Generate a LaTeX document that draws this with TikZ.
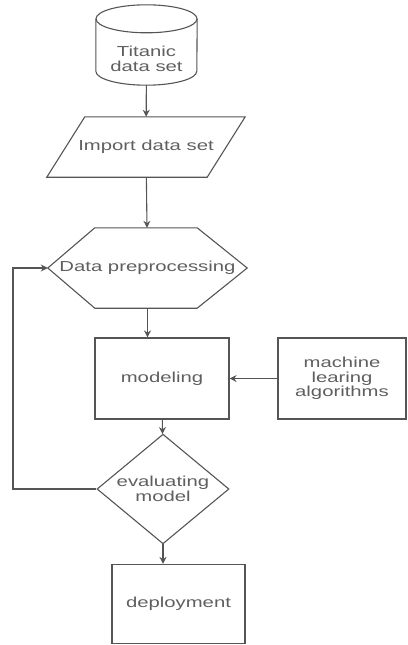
\documentclass[tikz,border=0pt]{standalone}
\usepackage{fontspec}
\newfontfamily\chartfont[FakeStretch=1.4]{Liberation Sans}
\usetikzlibrary{arrows.meta, shapes.geometric}
\definecolor{edgegray}{RGB}{85,85,85}
\definecolor{textgray}{RGB}{95,95,95}
\tikzset{
        x=1pt, y=1pt, % one unit is one pixel of the sheet
        every node/.style={font=\chartfont\fontsize{14.5}{14.5}\selectfont, text=textgray, align=center},
        flow/.style={draw=edgegray, line width=1.1pt, -{Stealth[length=7pt,width=7pt]}}, % the arrows
    }
\tikzset{
      frame/.style={draw=edgegray, line width=1.1pt},
      hold/.style 2 args={
		rectangle, inner sep=0pt,
		minimum width={#1}, minimum height={#2},
	  }, % outline is drawn by hand round it
      process/.style 2 args={
		hold={#1}{#2}, frame,
	  },
      decision/.style={
		diamond, frame, inner sep=-2pt,
		minimum width=132, minimum height=78,
	  }
  	}
\begin{document}
\begin{tikzpicture}
    \useasboundingbox (0,0) rectangle (407,-645);
    \node [hold={101}{52}] (data) at (146.5,-59) {Titanic\\data set};
    \node [hold={198}{60}] (import) at (146,-147) {Import data set};
    \node [hold={199}{80}] (prep) at (147.5,-268) {Data preprocessing};
    \node [process={134}{81}] (model) at (162,-378.5) {modeling};
    \node [process={128}{81}] (mla) at (342,-378.5) {machine\\learing\\algorithms};
    \node [decision] (eval) at (163,-489) {evaluating\\model};
    \node [process={133}{79}] (deploy) at (178.5,-604) {deployment};
    \coordinate (loop) at (13,-380);

    % outlines of the drawn shapes
    \draw [frame] ([yshift=14]data.north west) -- ([yshift=14]data.south west)
        arc [start angle=180, end angle=360, x radius=50.5, y radius=14] -- ([yshift=14]data.north east);
    \draw [frame] ([yshift=14]data.north) ellipse [x radius=50.5, y radius=14];
    \draw [frame] ([xshift=38]import.north west) -- (import.north east)
        -- ([xshift=-38]import.south east) -- (import.south west) -- cycle;
    \draw [frame] (prep.west) -- ([xshift=47]prep.north west) -- ([xshift=-50]prep.north east)
        -- (prep.east) -- ([xshift=-50]prep.south east) -- ([xshift=47]prep.south west) -- cycle;

    \draw [flow] (data) -- (import);
    \draw [flow] (import) -- (prep);
    \draw [flow] (prep.south) -- (prep.south |- model.north);
    \draw [flow] (mla) -- (model);
    \draw [flow] (model) -- (eval);
    \draw [flow] (eval.south) -- (eval.south |- deploy.north);
    \draw [flow] (eval.west) -- (eval.west -| loop) |- (prep.west); % back to preprocessing
\end{tikzpicture}
\end{document}
